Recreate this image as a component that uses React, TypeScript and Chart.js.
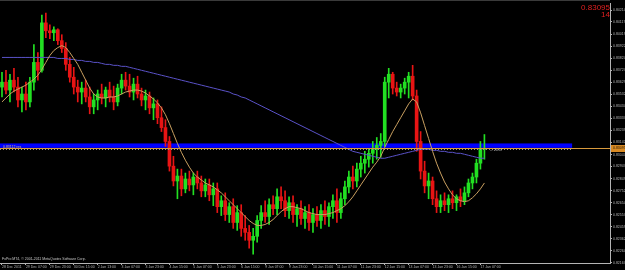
import React, { useEffect, useRef } from 'react';
import { Chart, registerables } from 'chart.js';

Chart.register(...registerables);

// ---- time axis ----
const xTickLabels = [
  '28 Dec 2011', '29 Dec 07:00', '29 Dec 23:00', '30 Dec 15:00', '2 Jan 13:00', '3 Jan 07:00',
  '3 Jan 23:00', '4 Jan 15:00', '5 Jan 07:00', '5 Jan 23:00', '6 Jan 15:00', '9 Jan 07:00',
  '9 Jan 23:00', '10 Jan 15:00', '11 Jan 07:00', '11 Jan 23:00', '12 Jan 15:00', '13 Jan 07:00',
  '13 Jan 23:00', '16 Jan 15:00', '17 Jan 07:00',
];
const barsPerLabel = 6;
const totalSlots = 153;

// ---- price axis ----
const yTickValues = [
  0.84214, 0.84117, 0.84019, 0.83922, 0.83824, 0.83727, 0.83629, 0.83532, 0.83434, 0.83337, 0.83239,
  0.83142, 0.83044, 0.82947, 0.82849, 0.82752, 0.82654, 0.82557, 0.82459, 0.82362, 0.82264, 0.82167,
];
const yTickLabels = [
  '0.84214', '0.84117', '0.84019', '0.83922', '0.83824', '0.83727', '0.83629', '0.83532', '0.83434', '0.83337', '0.83239',
  '0.83142', '0.83044', '0.82947', '0.82849', '0.82752', '0.82654', '0.82557', '0.82459', '0.82362', '0.82264', '0.82167',
];
const yMin = 0.82166;
const yMax = 0.8427;

// ---- candles ----
const opens = [
  0.83590, 0.83630, 0.83566, 0.83646, 0.83590, 0.83486, 0.83534, 0.83470, 0.83630, 0.83790,
  0.83726, 0.84110, 0.84046, 0.84030, 0.84054, 0.83966, 0.83902, 0.83774, 0.83670, 0.83590,
  0.83550, 0.83582, 0.83510, 0.83430, 0.83486, 0.83534, 0.83502, 0.83566, 0.83510, 0.83470,
  0.83582, 0.83646, 0.83598, 0.83550, 0.83614, 0.83534, 0.83486, 0.83518, 0.83422, 0.83454,
  0.83342, 0.83262, 0.83150, 0.82950, 0.82830, 0.82870, 0.82766, 0.82846, 0.82798, 0.82862,
  0.82814, 0.82750, 0.82798, 0.82718, 0.82766, 0.82622, 0.82670, 0.82558, 0.82622, 0.82494,
  0.82574, 0.82446, 0.82414, 0.82350, 0.82382, 0.82510, 0.82574, 0.82542, 0.82638, 0.82606,
  0.82702, 0.82670, 0.82590, 0.82654, 0.82558, 0.82606, 0.82526, 0.82574, 0.82494, 0.82558,
  0.82510, 0.82590, 0.82542, 0.82622, 0.82670, 0.82574, 0.82686, 0.82782, 0.82862, 0.82830,
  0.82926, 0.82974, 0.83006, 0.83054, 0.83086, 0.83118, 0.83150, 0.83630, 0.83694, 0.83582,
  0.83550, 0.83582, 0.83630, 0.83678, 0.83518, 0.83150, 0.82910, 0.82790, 0.82830, 0.82686,
  0.82622, 0.82670, 0.82638, 0.82686, 0.82654, 0.82702, 0.82670, 0.82734, 0.82814, 0.82862,
  0.82974, 0.83086,
];
const highs = [
  0.83710, 0.83726, 0.83694, 0.83742, 0.83670, 0.83590, 0.83630, 0.83670, 0.83934, 0.83870,
  0.84174, 0.84190, 0.84094, 0.84078, 0.84062, 0.84014, 0.83950, 0.83830, 0.83750, 0.83646,
  0.83630, 0.83646, 0.83590, 0.83534, 0.83566, 0.83614, 0.83590, 0.83630, 0.83598, 0.83614,
  0.83694, 0.83710, 0.83694, 0.83662, 0.83678, 0.83582, 0.83566, 0.83550, 0.83502, 0.83486,
  0.83430, 0.83326, 0.83190, 0.83030, 0.82926, 0.82926, 0.82894, 0.82910, 0.82894, 0.82910,
  0.82870, 0.82846, 0.82846, 0.82814, 0.82814, 0.82710, 0.82734, 0.82654, 0.82686, 0.82630,
  0.82638, 0.82550, 0.82470, 0.82446, 0.82550, 0.82630, 0.82670, 0.82686, 0.82710, 0.82766,
  0.82782, 0.82750, 0.82702, 0.82710, 0.82638, 0.82670, 0.82622, 0.82638, 0.82606, 0.82622,
  0.82638, 0.82670, 0.82654, 0.82718, 0.82766, 0.82734, 0.82830, 0.82910, 0.82950, 0.82974,
  0.83030, 0.83070, 0.83086, 0.83150, 0.83182, 0.83214, 0.83670, 0.83742, 0.83710, 0.83630,
  0.83614, 0.83662, 0.83710, 0.83766, 0.83566, 0.83230, 0.82990, 0.82894, 0.82862, 0.82750,
  0.82718, 0.82734, 0.82718, 0.82750, 0.82718, 0.82766, 0.82782, 0.82846, 0.82894, 0.83006,
  0.83150, 0.83206,
];
const lows = [
  0.83510, 0.83534, 0.83470, 0.83550, 0.83430, 0.83390, 0.83406, 0.83430, 0.83566, 0.83646,
  0.83710, 0.83990, 0.83982, 0.83966, 0.83934, 0.83870, 0.83726, 0.83630, 0.83534, 0.83470,
  0.83454, 0.83470, 0.83374, 0.83374, 0.83406, 0.83454, 0.83430, 0.83470, 0.83406, 0.83438,
  0.83534, 0.83566, 0.83510, 0.83486, 0.83502, 0.83438, 0.83406, 0.83374, 0.83326, 0.83294,
  0.83230, 0.83110, 0.82910, 0.82790, 0.82686, 0.82710, 0.82734, 0.82750, 0.82718, 0.82766,
  0.82702, 0.82702, 0.82670, 0.82630, 0.82574, 0.82550, 0.82510, 0.82494, 0.82446, 0.82430,
  0.82382, 0.82350, 0.82286, 0.82238, 0.82334, 0.82446, 0.82494, 0.82478, 0.82558, 0.82558,
  0.82606, 0.82542, 0.82526, 0.82494, 0.82462, 0.82478, 0.82446, 0.82430, 0.82414, 0.82462,
  0.82446, 0.82478, 0.82462, 0.82526, 0.82494, 0.82526, 0.82638, 0.82734, 0.82766, 0.82782,
  0.82862, 0.82894, 0.82942, 0.82974, 0.83006, 0.83022, 0.83110, 0.83502, 0.83534, 0.83518,
  0.83502, 0.83534, 0.83502, 0.83486, 0.83070, 0.82846, 0.82734, 0.82686, 0.82638, 0.82574,
  0.82574, 0.82590, 0.82574, 0.82606, 0.82590, 0.82622, 0.82638, 0.82702, 0.82766, 0.82814,
  0.82926, 0.83006,
];
const closes = [
  0.83630, 0.83566, 0.83646, 0.83590, 0.83486, 0.83534, 0.83470, 0.83630, 0.83790, 0.83726,
  0.84110, 0.84046, 0.84030, 0.84054, 0.83966, 0.83902, 0.83774, 0.83670, 0.83590, 0.83550,
  0.83582, 0.83510, 0.83430, 0.83486, 0.83534, 0.83502, 0.83566, 0.83510, 0.83470, 0.83582,
  0.83646, 0.83598, 0.83550, 0.83614, 0.83534, 0.83486, 0.83518, 0.83422, 0.83454, 0.83342,
  0.83262, 0.83150, 0.82950, 0.82830, 0.82870, 0.82766, 0.82846, 0.82798, 0.82862, 0.82814,
  0.82750, 0.82798, 0.82718, 0.82766, 0.82622, 0.82670, 0.82558, 0.82622, 0.82494, 0.82574,
  0.82446, 0.82414, 0.82350, 0.82382, 0.82510, 0.82574, 0.82542, 0.82638, 0.82606, 0.82702,
  0.82670, 0.82590, 0.82654, 0.82558, 0.82606, 0.82526, 0.82574, 0.82494, 0.82558, 0.82510,
  0.82590, 0.82542, 0.82622, 0.82670, 0.82574, 0.82686, 0.82782, 0.82862, 0.82830, 0.82926,
  0.82974, 0.83006, 0.83054, 0.83086, 0.83118, 0.83150, 0.83630, 0.83694, 0.83582, 0.83550,
  0.83582, 0.83630, 0.83678, 0.83518, 0.83150, 0.82910, 0.82790, 0.82830, 0.82686, 0.82622,
  0.82670, 0.82638, 0.82686, 0.82654, 0.82702, 0.82670, 0.82734, 0.82814, 0.82862, 0.82974,
  0.83086, 0.83095,
];

// ---- moving averages ----
const maFast = [
  0.83470, 0.83502, 0.83534, 0.83558, 0.83574, 0.83590, 0.83606, 0.83630, 0.83654, 0.83686,
  0.83734, 0.83790, 0.83846, 0.83886, 0.83910, 0.83926, 0.83910, 0.83870, 0.83822, 0.83774,
  0.83710, 0.83646, 0.83582, 0.83534, 0.83510, 0.83502, 0.83502, 0.83510, 0.83510, 0.83518,
  0.83534, 0.83550, 0.83558, 0.83566, 0.83566, 0.83558, 0.83542, 0.83518, 0.83494, 0.83462,
  0.83422, 0.83366, 0.83294, 0.83214, 0.83134, 0.83062, 0.82998, 0.82942, 0.82894, 0.82862,
  0.82838, 0.82814, 0.82798, 0.82782, 0.82758, 0.82734, 0.82702, 0.82670, 0.82638, 0.82606,
  0.82574, 0.82542, 0.82510, 0.82486, 0.82470, 0.82470, 0.82478, 0.82494, 0.82518, 0.82550,
  0.82582, 0.82606, 0.82622, 0.82622, 0.82614, 0.82606, 0.82590, 0.82574, 0.82566, 0.82558,
  0.82558, 0.82558, 0.82566, 0.82574, 0.82590, 0.82606, 0.82630, 0.82662, 0.82702, 0.82750,
  0.82798, 0.82846, 0.82894, 0.82942, 0.82982, 0.83030, 0.83102, 0.83166, 0.83230, 0.83286,
  0.83342, 0.83398, 0.83454, 0.83494, 0.83470, 0.83382, 0.83278, 0.83174, 0.83070, 0.82974,
  0.82894, 0.82822, 0.82766, 0.82718, 0.82686, 0.82670, 0.82662, 0.82670, 0.82694, 0.82726,
  0.82766, 0.82814,
];
const maSlow = [
  0.83830, 0.83830, 0.83830, 0.83830, 0.83830, 0.83830, 0.83830, 0.83830, 0.83830, 0.83830,
  0.83830, 0.83830, 0.83830, 0.83830, 0.83822, 0.83822, 0.83822, 0.83814, 0.83814, 0.83806,
  0.83806, 0.83798, 0.83798, 0.83790, 0.83790, 0.83782, 0.83774, 0.83774, 0.83766, 0.83766,
  0.83758, 0.83758, 0.83750, 0.83742, 0.83734, 0.83726, 0.83718, 0.83710, 0.83702, 0.83694,
  0.83686, 0.83678, 0.83670, 0.83662, 0.83654, 0.83646, 0.83638, 0.83630, 0.83622, 0.83614,
  0.83606, 0.83598, 0.83590, 0.83582, 0.83574, 0.83566, 0.83558, 0.83550, 0.83534, 0.83526,
  0.83510, 0.83502, 0.83486, 0.83470, 0.83454, 0.83438, 0.83422, 0.83406, 0.83390, 0.83374,
  0.83358, 0.83342, 0.83326, 0.83310, 0.83294, 0.83278, 0.83262, 0.83246, 0.83230, 0.83214,
  0.83198, 0.83182, 0.83166, 0.83150, 0.83134, 0.83118, 0.83102, 0.83086, 0.83070, 0.83062,
  0.83054, 0.83046, 0.83038, 0.83030, 0.83022, 0.83014, 0.83014, 0.83022, 0.83030, 0.83038,
  0.83046, 0.83054, 0.83062, 0.83070, 0.83078, 0.83086, 0.83086, 0.83086, 0.83078, 0.83078,
  0.83070, 0.83070, 0.83062, 0.83062, 0.83054, 0.83054, 0.83046, 0.83038, 0.83030, 0.83022,
  0.83014, 0.83014,
];

// ---- objects / annotations ----
const bidPrice = 0.83095;
const bidText = '0.83095';
const spreadText = '14';
const bandTop = 0.83134;
const bandBottom = 0.83098;
const bandEndSlot = 143;
const dottedLevel = 0.83090;
const bandLabel = '0.83112 res';
const lastBarNote = '\u2190 24.57';
const copyright = 'FxPro MT4, \u00A9 2001-2011 MetaQuotes Software Corp.';

const UP = '#22e022';
const DOWN = '#e81414';
const AXIS = '#b4b4b4';
const FONT = 'Liberation Sans, Arial, sans-serif';

export default function App() {
  const ref = useRef<HTMLCanvasElement | null>(null);

  useEffect(() => {
    const canvas = ref.current;
    if (!canvas) return;

    const slotLabels = Array.from({ length: totalSlots }, (_, i) =>
      i % barsPerLabel === 0 && xTickLabels[i / barsPerLabel] ? xTickLabels[i / barsPerLabel] : ''
    );
    const colors = closes.map((c, i) => (c >= opens[i] ? UP : DOWN));

    const extras = {
      id: 'mt4Extras',
      beforeDatasetsDraw(chart: any) {
        const { ctx, chartArea, scales } = chart;
        const x = scales.x;
        const y = scales.y;
        const xEnd = x.getPixelForValue(bandEndSlot);
        const t = y.getPixelForValue(bandTop);
        const b = y.getPixelForValue(bandBottom);
        ctx.save();
        ctx.fillStyle = '#0000ff';
        ctx.fillRect(chartArea.left, t, xEnd - chartArea.left, b - t);
        ctx.restore();
      },
      afterDatasetsDraw(chart: any) {
        const { ctx, chartArea, scales } = chart;
        const x = scales.x;
        const y = scales.y;
        const xEnd = x.getPixelForValue(bandEndSlot);
        ctx.save();
        const dy = Math.round(y.getPixelForValue(dottedLevel)) + 0.5;
        ctx.strokeStyle = '#9a9a9a';
        ctx.lineWidth = 1;
        ctx.setLineDash([1, 2]);
        ctx.beginPath();
        ctx.moveTo(chartArea.left, dy);
        ctx.lineTo(xEnd, dy);
        ctx.stroke();
        ctx.setLineDash([]);
        const by = Math.round(y.getPixelForValue(bidPrice)) + 0.5;
        ctx.strokeStyle = '#d89a3c';
        ctx.beginPath();
        ctx.moveTo(chartArea.left, by);
        ctx.lineTo(chartArea.right, by);
        ctx.stroke();
        ctx.fillStyle = '#d8c070';
        ctx.font = `3.5px ${FONT}`;
        ctx.textBaseline = 'middle';
        ctx.textAlign = 'left';
        ctx.fillText(bandLabel, chartArea.left + 3, y.getPixelForValue(bandBottom) - 1);
        ctx.fillStyle = '#c8c8c8';
        ctx.fillText(lastBarNote, x.getPixelForValue(closes.length) + 1, by + 2);
        ctx.fillStyle = '#c8c8c8';
        ctx.textBaseline = 'alphabetic';
        ctx.fillText(copyright, chartArea.left + 2, chartArea.bottom - 3);
        ctx.fillStyle = '#e02020';
        ctx.textAlign = 'right';
        ctx.font = `8px ${FONT}`;
        ctx.fillText(bidText, chartArea.right, 10);
        ctx.fillText(spreadText, chartArea.right, 17);
        ctx.restore();
      },
      afterDraw(chart: any) {
        const { ctx, chartArea, scales } = chart;
        const y = scales.y;
        const by = Math.round(y.getPixelForValue(bidPrice));
        ctx.save();
        ctx.fillStyle = '#d88a24';
        ctx.fillRect(chartArea.right + 1, by - 3, 16, 7);
        ctx.fillStyle = '#2a1a00';
        ctx.font = `3.5px ${FONT}`;
        ctx.textAlign = 'left';
        ctx.textBaseline = 'middle';
        ctx.fillText(bidText, chartArea.right + 3, by + 0.5);
        ctx.strokeStyle = '#3a3a3a';
        ctx.beginPath();
        ctx.moveTo(0, 0.5);
        ctx.lineTo(chartArea.right, 0.5);
        ctx.stroke();
        ctx.restore();
      },
    };

    const chart = new Chart(canvas, {
      type: 'bar',
      data: {
        labels: slotLabels,
        datasets: [
          {
            type: 'line',
            label: 'MA fast',
            data: maFast,
            borderColor: '#caa060',
            borderWidth: 1,
            pointRadius: 0,
            tension: 0,
            order: 0,
          } as any,
          {
            type: 'line',
            label: 'MA slow',
            data: maSlow,
            borderColor: '#5a52c8',
            borderWidth: 1,
            pointRadius: 0,
            tension: 0,
            order: 0,
          } as any,
          {
            label: 'wick',
            data: lows.map((l, i) => [l, highs[i]]),
            backgroundColor: colors,
            barThickness: 1,
            grouped: false,
            order: 2,
          } as any,
          {
            label: 'body',
            data: opens.map((o, i) => [o, closes[i]]),
            backgroundColor: colors,
            barThickness: 3,
            minBarLength: 1,
            grouped: false,
            order: 1,
          } as any,
        ],
      },
      options: {
        responsive: false,
        maintainAspectRatio: false,
        animation: false,
        events: [],
        layout: { padding: 0 },
        plugins: { legend: { display: false }, tooltip: { enabled: false } },
        scales: {
          x: {
            type: 'category',
            offset: true,
            grid: {
              display: true,
              drawOnChartArea: false,
              offset: false,
              tickLength: 2,
              color: AXIS,
            },
            border: { display: true, color: AXIS },
            ticks: {
              autoSkip: false,
              maxRotation: 0,
              minRotation: 0,
              align: 'start',
              padding: 0,
              color: AXIS,
              font: { size: 3.5, family: FONT },
            },
            afterBuildTicks(scale: any) {
              scale.ticks = scale.ticks.filter((t: any) => t.value % barsPerLabel === 0 && slotLabels[t.value] !== '');
            },
            afterFit(scale: any) {
              scale.height = 7;
            },
          },
          y: {
            type: 'linear',
            position: 'right',
            min: yMin,
            max: yMax,
            grid: {
              display: true,
              drawOnChartArea: false,
              tickLength: 2,
              color: AXIS,
            },
            border: { display: true, color: AXIS },
            ticks: {
              padding: 1,
              color: AXIS,
              font: { size: 3.5, family: FONT },
              callback: (_v: any, i: number) => yTickLabels[i],
            },
            afterBuildTicks(scale: any) {
              scale.ticks = yTickValues.map((v) => ({ value: v }));
            },
            afterFit(scale: any) {
              scale.width = 15;
            },
          },
        },
      },
      plugins: [extras],
    });

    return () => chart.destroy();
  }, []);

  return (
    <div style={{ position: 'fixed', left: 0, top: 0, width: 625, height: 270, background: '#000' }}>
      <canvas ref={ref} width={625} height={270} style={{ display: 'block' }} />
    </div>
  );
}
